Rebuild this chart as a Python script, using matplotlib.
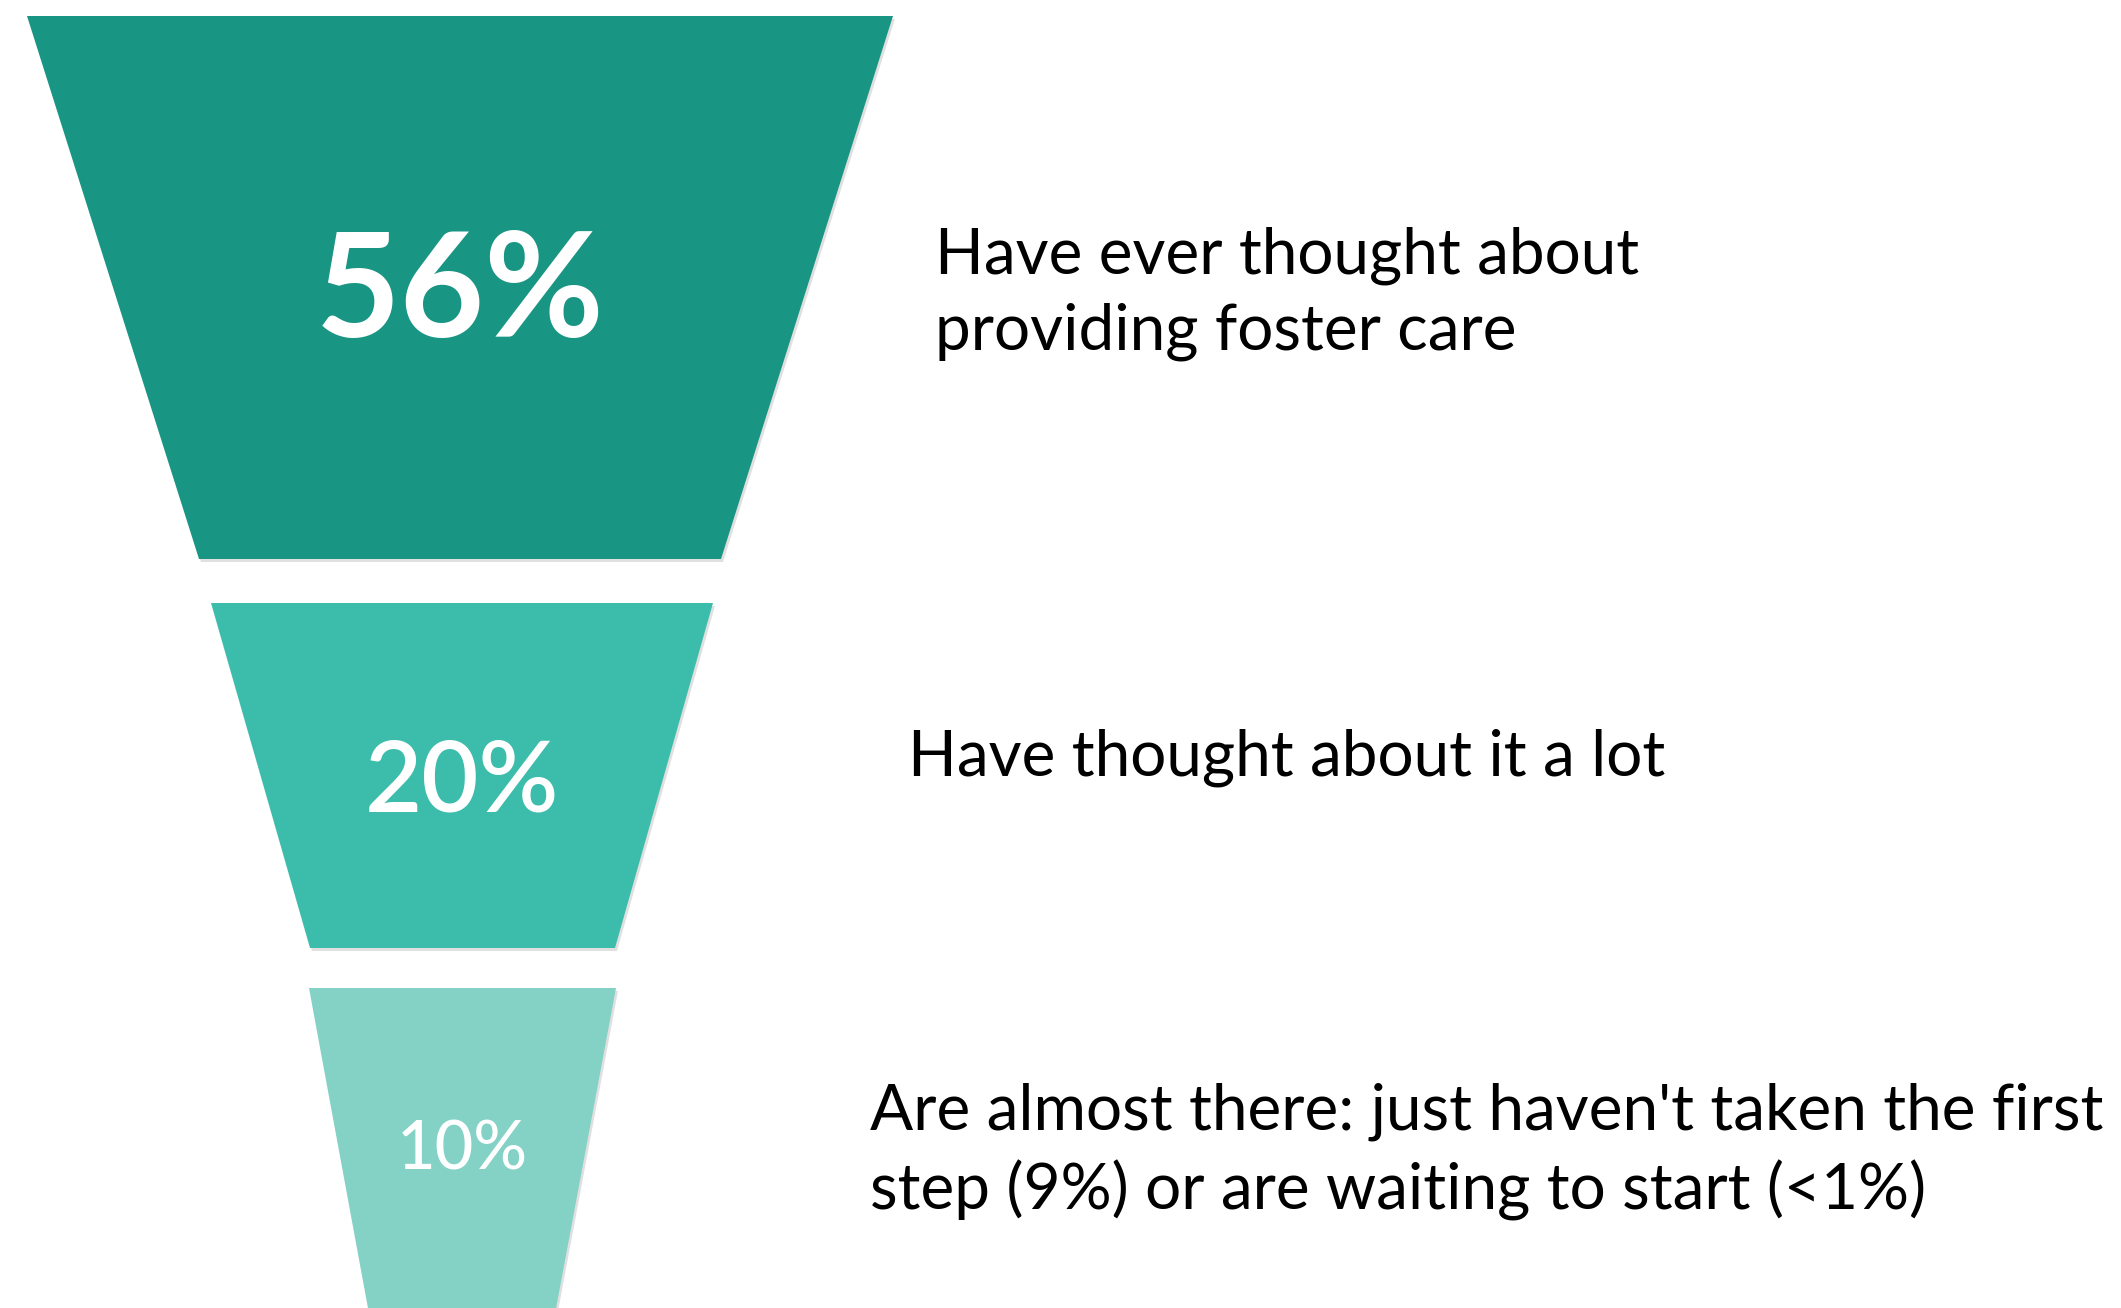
import matplotlib
matplotlib.use("Agg")
import matplotlib.pyplot as plt
from matplotlib.patches import Polygon

plt.rcParams['font.family'] = ['Lato', 'DejaVu Sans']

# funnel data
values = [56, 20, 10]
value_labels = ["56%", "20%", "10%"]
descriptions = [
    "Have ever thought about\nproviding foster care",
    "Have thought about it a lot",
    "Are almost there: just haven't taken the first\nstep (9%) or are waiting to start (<1%)",
]
colors = ["#199583", "#3CBDAB", "#84D1C6"]

# layout (pixels, y down)
W, H = 2121, 1308
# (top_y, bottom_y, top_left, top_right, bottom_left, bottom_right)
shapes = [
    (16, 559, 27, 893, 199, 721),
    (603, 948, 211, 713, 310, 615),
    (988, 1330, 309, 616, 372, 552),
]
label_y = [295, 783, 1151]
label_size = [105, 71, 48]
label_weight = ["bold", "semibold", "medium"]
desc_x = [935, 908, 870]
desc_y = [294, 758, 1152]

fig = plt.figure(figsize=(W / 100, H / 100), dpi=100)
ax = fig.add_axes([0, 0, 1, 1])
ax.set_xlim(0, W)
ax.set_ylim(H, 0)
ax.axis("off")

for i, (ty, by, tl, tr, bl, br) in enumerate(shapes):
    pts = [(tl, ty), (tr, ty), (br, by), (bl, by)]
    shadow = Polygon([(x + 2, y + 3) for x, y in pts], closed=True,
                     facecolor="#000000", alpha=0.12, edgecolor="none", zorder=1)
    ax.add_patch(shadow)
    ax.add_patch(Polygon(pts, closed=True, facecolor=colors[i],
                         edgecolor="none", zorder=2))
    cx = (tl + tr) / 2
    ax.text(cx, label_y[i], value_labels[i], color="white",
            fontsize=label_size[i], fontweight=label_weight[i],
            ha="center", va="center", zorder=3)
    ax.text(desc_x[i], desc_y[i], descriptions[i], color="black",
            fontsize=46, ha="left", va="center", linespacing=1.38, zorder=3)

fig.savefig("out.png", dpi=100)
